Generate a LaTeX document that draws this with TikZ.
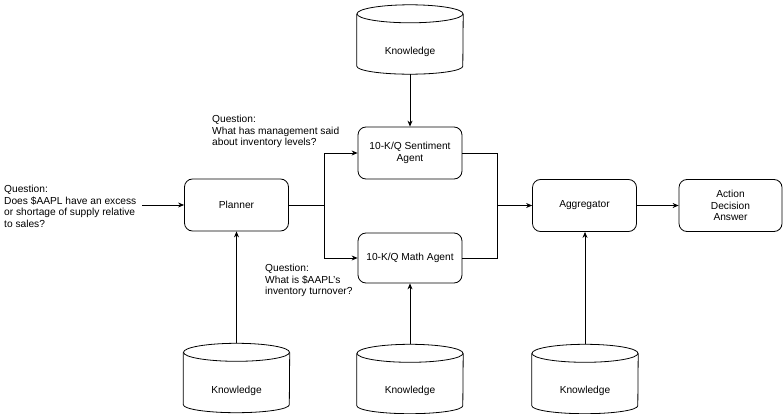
\documentclass[tikz,border=0pt]{standalone}
\usepackage{fontspec}
\setmainfont{Liberation Sans}
\usetikzlibrary{arrows.meta}
\newcommand{\dbshape}[1]{%
  \draw[ln] ([yshift=-9pt]#1.north west) -- ([yshift=8pt]#1.south west)
     arc[start angle=180, end angle=360, x radius=53pt, y radius=8pt]
     -- ([yshift=-9pt]#1.north east);
  \draw[ln] ([yshift=-9pt]#1.north) ellipse [x radius=53pt, y radius=9pt];}
\begin{document}
\begin{tikzpicture}[x=1pt,y=-1pt,
  every node/.style={font=\fontsize{10.2}{11.6}\selectfont},
  box/.style={draw, rounded corners=8pt, minimum width=104pt, minimum height=52pt, align=center, inner sep=0pt, line width=0.8pt},
  db/.style={minimum width=106pt, minimum height=69pt, inner sep=0pt},
  qtext/.style={align=left, anchor=north west, inner sep=0pt},
  arr/.style={-{Stealth[length=6pt,width=5pt]}, line width=0.8pt},
  ln/.style={line width=0.8pt}]
\useasboundingbox (0,0) rectangle (784,414);

\node[box] (plan) at (236.5,205) {Planner};
\node[box] (sent) at (410,153) {10-K/Q Sentiment\\Agent};
\node[box, minimum height=50pt] (math) at (410,258) {10-K/Q Math Agent};
\node[box] (agg) at (584.5,205.5) {Aggregator};
\node[box, minimum width=103pt] (act) at (730.5,205.5) {Action\\Decision\\Answer};

\node[db] (k0) at (410,39.5) {};
\dbshape{k0}
\node (k0t) at (410,52) {Knowledge};
\node[db] (k1) at (236.5,378) {};
\dbshape{k1}
\node (k1t) at (236.5,391) {Knowledge};
\node[db] (k2) at (410,379) {};
\dbshape{k2}
\node (k2t) at (410,391) {Knowledge};
\node[db] (k3) at (585,379) {};
\dbshape{k3}
\node (k3t) at (585,391) {Knowledge};

\node[qtext] (q0) at (4,185) {Question:\\Does \$AAPL have an excess\\or shortage of supply relative\\to sales?};
\node[qtext] (q1) at (212,115) {Question:\\What has management said\\about inventory levels?};
\node[qtext] (q2) at (265,264) {Question:\\What is \$AAPL's\\inventory turnover?};

\coordinate (qin) at (142,205);
\draw[arr] (qin) -- (plan.west);
\coordinate (split) at (324,205);
\draw[ln] (plan.east) -- (split);
\draw[arr] (split) |- (sent.west);
\draw[arr] (split) |- (math.west);
\coordinate (join) at (497,205.5);
\draw[ln] (sent.east) -| (join);
\draw[ln] (math.east) -| (join);
\draw[arr] (join) -- (agg.west);
\draw[arr] (agg) -- (act);
\draw[arr] (k0.south) -- (sent.north);
\draw[arr] (k1.north) -- (plan.south);
\draw[arr] (k2.north) -- (math.south);
\draw[arr] (k3.north) -- (k3.north |- agg.south);
\end{tikzpicture}
\end{document}
